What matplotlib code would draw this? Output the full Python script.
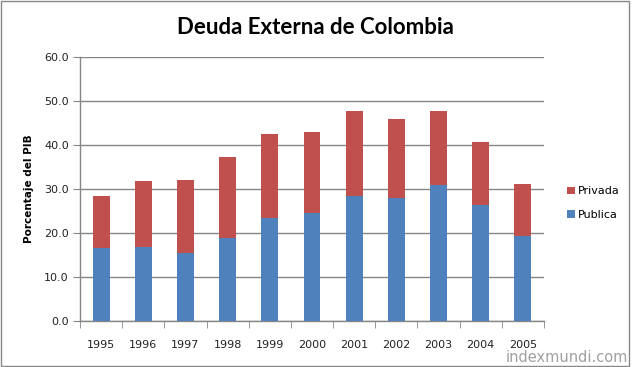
import matplotlib
matplotlib.use("Agg")
import matplotlib.pyplot as plt
from matplotlib.patches import Rectangle
import numpy as np

years = ["1995", "1996", "1997", "1998", "1999", "2000", "2001", "2002", "2003", "2004", "2005"]
publica = [16.7, 16.8, 15.5, 18.9, 23.5, 24.5, 28.4, 28.0, 30.8, 26.4, 19.4]
total = [28.4, 31.8, 32.0, 37.3, 42.5, 43.0, 47.7, 45.9, 47.7, 40.7, 31.1]
privada = [round(t - p, 1) for t, p in zip(total, publica)]
yticks = [0, 10, 20, 30, 40, 50, 60]

blue = "#4F81BD"
red = "#C0504D"
grid = "#868686"

fig = plt.figure(figsize=(6.32, 3.67), dpi=100)
fig.patches.append(Rectangle((0.002, 0.004), 0.994, 0.992, transform=fig.transFigure,
                             fill=False, edgecolor="#888888", linewidth=1.0))
ax = fig.add_axes([80/632, 1-321/367, 464/632, 264/367])

x = np.arange(len(years))
ax.bar(x, publica, width=0.4, color=blue, label="Publica", zorder=3)
ax.bar(x, privada, width=0.4, bottom=publica, color=red, label="Privada", zorder=3)

ax.set_xlim(-0.5, len(years) - 0.5)
ax.set_ylim(0, 60)
ax.set_yticks(yticks)
ax.set_yticklabels([f"{v:.1f}" for v in yticks])
ax.set_xticks(x)
ax.set_xticklabels(years)
ax.set_xticks(np.arange(-0.5, len(years)), minor=True)
ax.tick_params(axis="x", which="major", length=0, pad=14, labelsize=8, labelcolor="#222222")
ax.tick_params(axis="x", which="minor", length=5, color=grid, direction="out")
ax.tick_params(axis="y", length=5, color=grid, direction="out", labelsize=8, labelcolor="#222222", pad=3)

ax.yaxis.grid(True, color=grid, linewidth=1.0, zorder=0)
for s in ["top", "right"]:
    ax.spines[s].set_visible(False)
for s in ["left", "bottom"]:
    ax.spines[s].set_color(grid)
    ax.spines[s].set_linewidth(1.0)

ax.set_ylabel("Porcentaje del PIB", fontsize=7.5, fontweight="bold", labelpad=7)

fig.text(0.5 * (80 + 544) / 632 + 0.005, 1 - 27/367, "Deuda Externa de Colombia",
         ha="center", va="center", fontsize=16, fontweight="bold", family="Lato")

handles, labels = ax.get_legend_handles_labels()
leg = fig.legend(handles[::-1], labels[::-1], loc="center left",
                 bbox_to_anchor=(557/632, 1 - 203/367), frameon=False,
                 fontsize=8, handlelength=0.7, handleheight=0.7, handletextpad=0.3,
                 labelspacing=1.2)

fig.text(628/632, 1 - 357/367, "indexmundi.com", ha="right", va="center",
         fontsize=10.5, color="#A0A0A0")

fig.savefig("out.png", dpi=100)
